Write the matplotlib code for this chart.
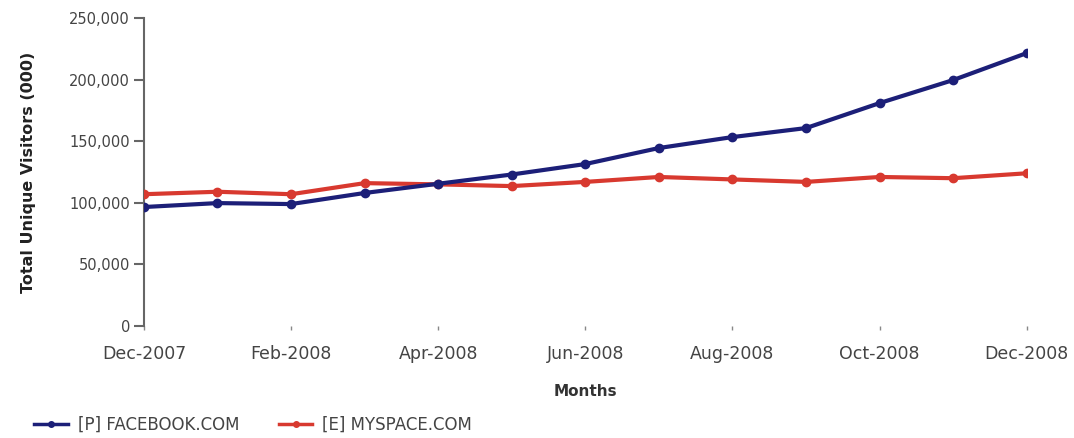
import matplotlib
matplotlib.use("Agg")
import matplotlib.pyplot as plt
from matplotlib.ticker import FuncFormatter
from matplotlib.lines import Line2D

months = ["Dec-2007", "Jan-2008", "Feb-2008", "Mar-2008", "Apr-2008", "May-2008",
          "Jun-2008", "Jul-2008", "Aug-2008", "Sep-2008", "Oct-2008", "Nov-2008", "Dec-2008"]
facebook = [96600, 99800, 99000, 108000, 115500, 123000, 131500, 144500, 153400, 160700, 181000, 199700, 221600]
myspace = [107000, 109000, 107000, 116000, 115000, 113600, 117000, 121000, 119000, 117000, 121000, 120000, 124000]
tick_labels = ["Dec-2007", "Feb-2008", "Apr-2008", "Jun-2008", "Aug-2008", "Oct-2008", "Dec-2008"]
series_names = ["[P] FACEBOOK.COM", "[E] MYSPACE.COM"]

navy = "#1c1f78"
red = "#d8392f"
gray = "#444444"

fig = plt.figure(figsize=(10.74, 4.38), dpi=100)
ax = fig.add_axes([0.134, 0.2557, 0.822, 0.703])

x = list(range(len(months)))
ax.plot(x, myspace, color=red, lw=3, marker="o", ms=6, zorder=3)
ax.plot(x, facebook, color=navy, lw=3, marker="o", ms=6, zorder=4)

ax.set_xlim(0, len(months) - 1)
ax.set_ylim(0, 250000)
ax.set_yticks(range(0, 250001, 50000))
ax.yaxis.set_major_formatter(FuncFormatter(lambda v, p: f"{int(v):,}"))
ax.set_xticks([months.index(t) for t in tick_labels])
ax.set_xticklabels(tick_labels)

for s in ["top", "right", "bottom"]:
    ax.spines[s].set_visible(False)
ax.spines["left"].set_color("#666666")
ax.spines["left"].set_linewidth(1.5)
ax.tick_params(axis="y", length=7, width=1.5, color="#666666", labelsize=10.5, labelcolor=gray, pad=3)
ax.tick_params(axis="x", length=3, width=1, color="#888888", labelsize=12.5, labelcolor=gray, pad=11)

ax.set_ylabel("Total Unique Visitors (000)", fontsize=11.5, fontweight="bold", color="#222222", labelpad=24)
ax.set_xlabel("Months", fontsize=11, fontweight="bold", color="#333333", labelpad=15)

handles = [Line2D([], [], color=navy, lw=2.5, marker="o", ms=4),
           Line2D([], [], color=red, lw=2.5, marker="o", ms=4)]
fig.legend(handles, series_names, loc="lower left", bbox_to_anchor=(0.018, -0.025), ncol=2,
           frameon=False, fontsize=12, labelcolor=gray, handlelength=2.0, columnspacing=2.4,
           handletextpad=0.6)

fig.savefig("out.png", dpi=100)
